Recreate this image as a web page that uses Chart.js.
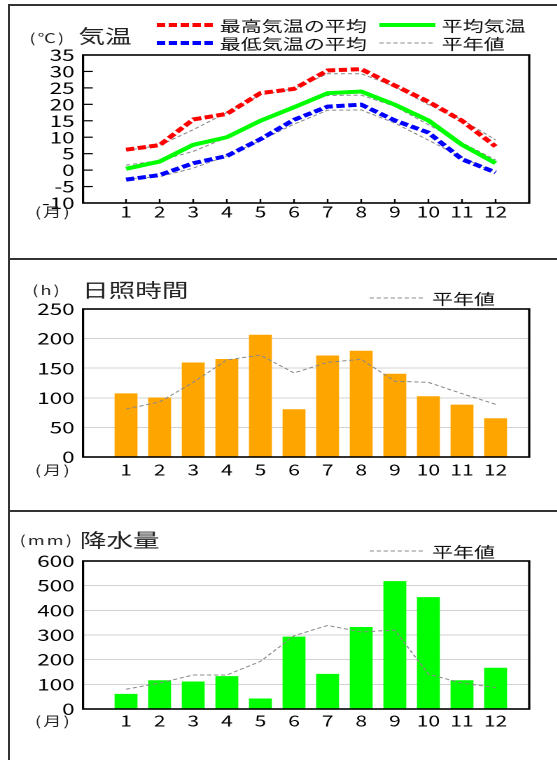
<!DOCTYPE html>
<html>
<head>
<meta charset="utf-8">
<script src="https://cdn.jsdelivr.net/npm/chart.js@4.4.1/dist/chart.umd.min.js"></script>
<style>
  body { margin: 0; background: #fff; width: 557px; height: 760px; overflow: hidden; position: relative; }
  .line-h { position: absolute; left: 8px; width: 549px; height: 0; border-top: 2px solid #333; }
  .line-v { position: absolute; left: 8px; top: 4px; width: 0; height: 756px; border-left: 2px solid #333; }
  /* the reference is drawn wide, so every panel is rendered narrow and stretched */
  .panel { position: absolute; left: 0; width: 398px; height: 250px; transform: scaleX(1.4); transform-origin: 0 0; }
</style>
</head>
<body>
<div class="line-v"></div>
<div class="line-h" style="top:4px"></div>
<div class="line-h" style="top:258px"></div>
<div class="line-h" style="top:510px"></div>

<div class="panel" style="top:5px"><canvas id="c-temp" width="398" height="250"></canvas></div>
<div class="panel" style="top:259px"><canvas id="c-sun" width="398" height="250"></canvas></div>
<div class="panel" style="top:511px"><canvas id="c-rain" width="398" height="250"></canvas></div>

<script>
// ── Data ─────────────────────────────────────────────────────────────────────
const MONTHS = [1, 2, 3, 4, 5, 6, 7, 8, 9, 10, 11, 12];
const TEMP_TICKS = [-10, -5, 0, 5, 10, 15, 20, 25, 30, 35];
const SUN_TICKS = [0, 50, 100, 150, 200, 250];
const RAIN_TICKS = [0, 100, 200, 300, 400, 500, 600];

const TEMP_MAX = [6.2, 7.6, 15.4, 17.1, 23.4, 24.7, 30.3, 30.7, 25.7, 20.8, 15.0, 7.2];
const TEMP_MEAN = [0.4, 2.6, 7.7, 10.0, 15.0, 19.1, 23.4, 23.9, 19.9, 15.1, 7.7, 2.1];
const TEMP_MIN = [-2.9, -1.5, 2.1, 4.3, 9.4, 15.3, 19.3, 19.9, 15.1, 11.4, 3.3, -0.7];
const NORMAL_MAX = [6.0, 7.5, 12.3, 17.5, 22.9, 24.8, 29.3, 29.3, 25.4, 19.9, 15.3, 9.2];
const NORMAL_MEAN = [1.5, 2.9, 5.7, 9.9, 15.2, 19.3, 22.7, 22.8, 19.4, 13.8, 8.3, 3.1];
const NORMAL_MIN = [-2.7, -2.0, 0.6, 4.3, 9.0, 14.0, 18.2, 18.3, 14.3, 9.1, 3.8, -0.7];

const SUN_HOURS = [107, 100, 159, 165, 206, 80, 171, 179, 140, 102, 88, 65];
const SUN_NORMAL = [81, 93, 126, 164, 172, 142, 160, 165, 128, 126, 107, 89];

const RAIN_MM = [60, 115, 110, 132, 41, 292, 141, 331, 517, 452, 115, 166];
const RAIN_NORMAL = [80, 105, 138, 138, 193, 297, 339, 312, 320, 141, 105, 87];

// ── Layout / style ───────────────────────────────────────────────────────────
const FONT = '"Noto Sans CJK JP", "Noto Sans", sans-serif';
const X_MIN = -0.28;
const X_MAX = 13.0;
const GRAY = "#8a8a8a";

function pts(values) {
  return MONTHS.map((m, i) => ({ x: m, y: values[i] }));
}

function lineSet(label, values, color, width, dash) {
  return {
    type: "line",
    label,
    data: pts(values),
    borderColor: color,
    backgroundColor: color,
    borderWidth: width,
    borderDash: dash,
    pointRadius: 0,
    tension: 0,
    fill: false,
  };
}

// titles, legend, frame and inner tick marks
const decor = {
  id: "decor",
  afterDraw(chart, args, o) {
    const { ctx, chartArea: a } = chart;
    ctx.save();

    if (o.innerTicks) {
      ctx.strokeStyle = "#000";
      ctx.lineWidth = 1.2;
      const ys = chart.scales.y;
      ys.ticks.forEach((t) => {
        const py = ys.getPixelForValue(t.value);
        if (py <= a.top + 1 || py >= a.bottom - 1) return;
        ctx.beginPath();
        ctx.moveTo(a.left, py);
        ctx.lineTo(a.left + 7, py);
        ctx.stroke();
      });
      const xs = chart.scales.x;
      xs.ticks.forEach((t) => {
        const px = xs.getPixelForValue(t.value);
        ctx.beginPath();
        ctx.moveTo(px, a.bottom);
        ctx.lineTo(px, a.bottom - 4);
        ctx.stroke();
      });
    }

    ctx.strokeStyle = "#000";
    ctx.lineWidth = 1.6;
    ctx.strokeRect(a.left, a.top, a.right - a.left, a.bottom - a.top);

    ctx.fillStyle = "#222";
    ctx.textBaseline = "middle";
    ctx.textAlign = "left";
    ctx.font = `13px ${FONT}`;
    if ("letterSpacing" in ctx) ctx.letterSpacing = "1.5px";
    ctx.fillText(o.unit, o.unitX, o.unitY);
    ctx.fillText("(月)", 25, o.monthY);
    if ("letterSpacing" in ctx) ctx.letterSpacing = "0px";
    ctx.font = `19px ${FONT}`;
    ctx.fillText(o.title, o.titleX, o.titleY);

    ctx.font = `15px ${FONT}`;
    o.legend.forEach((item) => {
      const ds = chart.data.datasets[item.ds];
      ctx.strokeStyle = ds.borderColor;
      ctx.lineWidth = ds.borderWidth;
      ctx.setLineDash(ds.borderDash || []);
      ctx.beginPath();
      ctx.moveTo(item.x1, item.y);
      ctx.lineTo(item.x2, item.y);
      ctx.stroke();
      ctx.setLineDash([]);
      ctx.fillStyle = "#111";
      ctx.fillText(ds.label, item.tx, item.y + 1);
    });

    ctx.restore();
  },
};

function makeOptions(cfg) {
  return {
    responsive: false,
    animation: false,
    devicePixelRatio: 2,
    events: [],
    layout: { padding: { top: 50, right: 20, left: 0, bottom: 0 } },
    plugins: {
      legend: { display: false },
      tooltip: { enabled: false },
      decor: cfg.decor,
    },
    scales: {
      x: {
        type: "linear",
        min: X_MIN,
        max: X_MAX,
        offset: false,
        afterBuildTicks: (s) => { s.ticks = MONTHS.map((v) => ({ value: v })); },
        afterFit: (s) => { s.height = 52; },
        grid: { display: false, drawTicks: false, offset: false },
        border: { display: false },
        ticks: {
          padding: cfg.xPad,
          color: "#000",
          autoSkip: false,
          maxRotation: 0,
          font: { family: FONT, size: 15 },
        },
      },
      y: {
        min: cfg.ticks[0],
        max: cfg.ticks[cfg.ticks.length - 1],
        afterBuildTicks: (s) => { s.ticks = cfg.ticks.map((v) => ({ value: v })); },
        afterFit: (s) => { s.width = 59.3; },
        grid: cfg.grid
          ? { color: "#d2d2d2", lineWidth: 1, drawTicks: false }
          : { display: false, drawTicks: false },
        border: { display: false },
        ticks: {
          padding: 6,
          color: "#000",
          autoSkip: false,
          font: { family: FONT, size: 16 },
        },
      },
    },
  };
}

// ── Temperature ──────────────────────────────────────────────────────────────
new Chart(document.getElementById("c-temp"), {
  type: "line",
  data: {
    datasets: [
      lineSet("最高気温の平均", TEMP_MAX, "#ff0000", 4, [6, 2.5]),
      lineSet("平均気温", TEMP_MEAN, "#00ff00", 4, []),
      lineSet("最低気温の平均", TEMP_MIN, "#0000ff", 4, [6, 2.5]),
      lineSet("平年値", NORMAL_MAX, GRAY, 1, [3, 2]),
      lineSet("平年値", NORMAL_MEAN, GRAY, 1, [3, 2]),
      lineSet("平年値", NORMAL_MIN, GRAY, 1, [3, 2]),
    ],
  },
  options: makeOptions({
    ticks: TEMP_TICKS,
    grid: false,
    xPad: 0,
    decor: {
      unit: "(℃)", unitX: 21, unitY: 33,
      title: "気温", titleX: 56, titleY: 31,
      monthY: 207,
      innerTicks: true,
      legend: [
        { ds: 0, x1: 112, x2: 152, y: 20, tx: 157 },
        { ds: 1, x1: 271, x2: 311, y: 20, tx: 315.5 },
        { ds: 2, x1: 112, x2: 152, y: 38, tx: 157 },
        { ds: 3, x1: 271, x2: 311, y: 38, tx: 315.5 },
      ],
    },
  }),
  plugins: [decor],
});

// ── Sunshine ─────────────────────────────────────────────────────────────────
new Chart(document.getElementById("c-sun"), {
  type: "bar",
  data: {
    datasets: [
      lineSet("平年値", SUN_NORMAL, GRAY, 1, [3, 2]),
      {
        type: "bar",
        label: "日照時間",
        data: pts(SUN_HOURS),
        backgroundColor: "#ffa500",
        borderWidth: 0,
        barThickness: 15.7,
      },
    ],
  },
  options: makeOptions({
    ticks: SUN_TICKS,
    grid: true,
    xPad: 4,
    decor: {
      unit: "(h)", unitX: 23, unitY: 31,
      title: "日照時間", titleX: 58.6, titleY: 31,
      monthY: 211,
      legend: [{ ds: 0, x1: 264, x2: 304, y: 39, tx: 308.6 }],
    },
  }),
  plugins: [decor],
});

// ── Precipitation ────────────────────────────────────────────────────────────
new Chart(document.getElementById("c-rain"), {
  type: "bar",
  data: {
    datasets: [
      lineSet("平年値", RAIN_NORMAL, GRAY, 1, [3, 2]),
      {
        type: "bar",
        label: "降水量",
        data: pts(RAIN_MM),
        backgroundColor: "#00ff00",
        borderWidth: 0,
        barThickness: 15.7,
      },
    ],
  },
  options: makeOptions({
    ticks: RAIN_TICKS,
    grid: true,
    xPad: 3,
    decor: {
      unit: "(mm)", unitX: 14, unitY: 29,
      title: "降水量", titleX: 57, titleY: 29,
      monthY: 210,
      legend: [{ ds: 0, x1: 264, x2: 304, y: 40, tx: 308.6 }],
    },
  }),
  plugins: [decor],
});
</script>
</body>
</html>
